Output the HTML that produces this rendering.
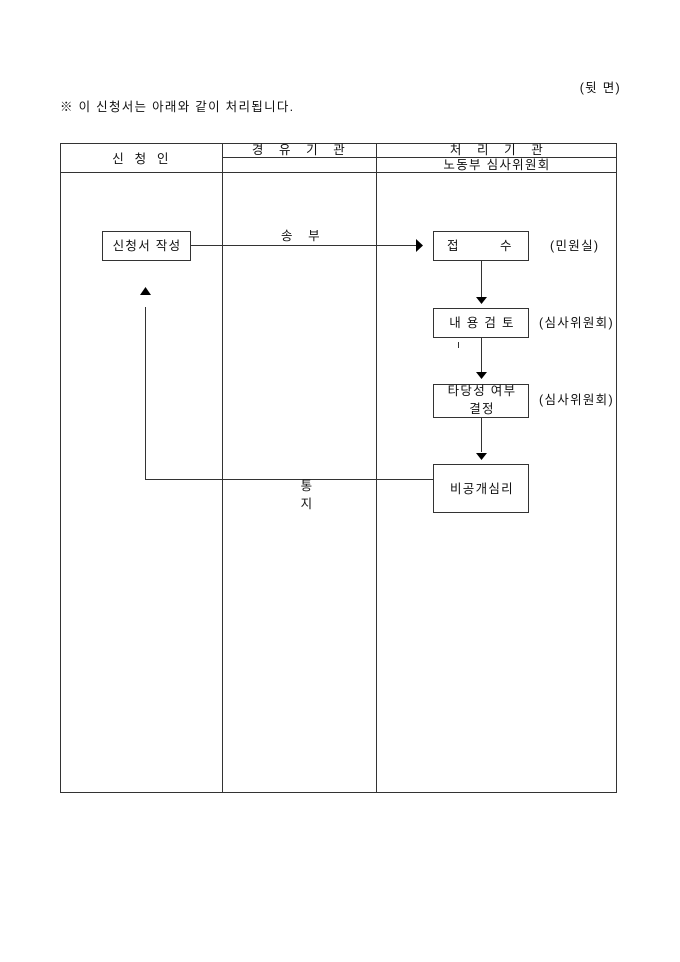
<!DOCTYPE html>
<html><head><meta charset="utf-8"><style>
html,body{margin:0;padding:0;background:#fff;width:680px;height:962px;overflow:hidden}
svg{display:block}
text{font-family:"Liberation Sans","Noto Sans CJK KR","NanumGothic",sans-serif;font-size:12.5px;letter-spacing:1.3px;fill:#111}
</style></head><body>
<svg width="680" height="962" viewBox="0 0 680 962">
<text x="621" y="92" text-anchor="end">(뒷 면)</text>
<text x="60" y="111">※ 이 신청서는 아래와 같이 처리됩니다.</text>
<g stroke="#333" stroke-width="1" fill="none">
<rect x="60.5" y="143.5" width="556" height="649"/>
<line x1="222.5" y1="143" x2="222.5" y2="793"/>
<line x1="376.5" y1="143" x2="376.5" y2="793"/>
<line x1="222" y1="157.5" x2="617" y2="157.5"/>
<line x1="60" y1="172.5" x2="617" y2="172.5"/>
<rect x="102.5" y="231.5" width="88" height="29"/>
<rect x="433.5" y="231.5" width="95" height="29"/>
<rect x="433.5" y="308.5" width="95" height="29"/>
<rect x="433.5" y="384.5" width="95" height="33"/>
<rect x="433.5" y="464.5" width="95" height="48"/>
<line x1="190" y1="245.5" x2="416" y2="245.5"/>
<line x1="481.5" y1="261" x2="481.5" y2="297"/>
<line x1="481.5" y1="338" x2="481.5" y2="372"/>
<line x1="481.5" y1="418" x2="481.5" y2="452"/>
<polyline points="433,479.5 145.5,479.5 145.5,307"/>
<line x1="458.5" y1="342" x2="458.5" y2="348"/>
</g>
<g fill="#000">
<polygon points="416,239 423,245.5 416,252"/>
<polygon points="476,297 487,297 481.5,304"/>
<polygon points="476,372 487,372 481.5,379"/>
<polygon points="476,453 487,453 481.5,460"/>
<polygon points="140,295 151,295 145.5,287"/>
</g>
<text x="141" y="163" text-anchor="middle">신 &#160;청 &#160;인</text>
<text x="299" y="154" text-anchor="middle">경 &#160;&#160;유 &#160;&#160;기 &#160;&#160;관</text>
<text x="497" y="154" text-anchor="middle">처 &#160;&#160;리 &#160;&#160;기 &#160;&#160;관</text>
<text x="497" y="169" text-anchor="middle">노동부 심사위원회</text>
<text x="147" y="250" text-anchor="middle">신청서 작성</text>
<text x="301" y="240" text-anchor="middle">송 &#160;&#160;부</text>
<text x="447" y="250">접</text>
<text x="500" y="250">수</text>
<text x="550" y="250">(민원실)</text>
<text x="482" y="327" text-anchor="middle">내 용 검 토</text>
<text x="539" y="327">(심사위원회)</text>
<text x="482" y="395" text-anchor="middle">타당성 여부</text>
<text x="482" y="413" text-anchor="middle">결정</text>
<text x="539" y="404">(심사위원회)</text>
<text x="482" y="493" text-anchor="middle">비공개심리</text>
<text x="307" y="490" text-anchor="middle">통</text>
<text x="307" y="508" text-anchor="middle">지</text>
</svg>
</body></html>
